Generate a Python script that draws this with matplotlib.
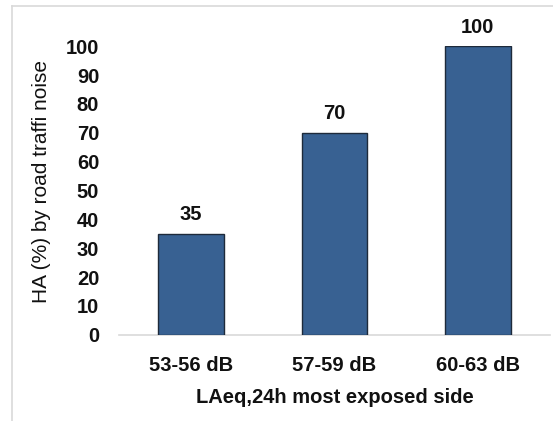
import matplotlib
matplotlib.use("Agg")
import matplotlib.pyplot as plt
from matplotlib.lines import Line2D

categories = ["53-56 dB", "57-59 dB", "60-63 dB"]
values = [35, 70, 100]
y_ticks = [0, 10, 20, 30, 40, 50, 60, 70, 80, 90, 100]

plt.rcParams["font.family"] = ["Liberation Sans", "DejaVu Sans"]

W, H = 553, 421
fig = plt.figure(figsize=(W / 100, H / 100), dpi=100)
ax = fig.add_axes([119.3 / W, 1 - 334.7 / H, (549.5 - 119.3) / W, (334.7 - 46.3) / H])

x = list(range(len(categories)))
ax.bar(x, values, width=0.458, color="#386192", edgecolor="#1e2a3a", linewidth=1.0, zorder=3)

for xi, v in zip(x, values):
    ax.annotate(str(v), (xi, v), xytext=(0, 7), textcoords="offset points",
                ha="center", va="bottom", fontsize=14.5, fontweight="bold",
                color="#111111", annotation_clip=False)

ax.set_xlim(-0.5, len(categories) - 0.5)
ax.set_ylim(0, 100)
ax.set_xticks(x)
ax.set_xticklabels(categories, fontsize=14.5, fontweight="bold", color="#111111")
ax.set_yticks(y_ticks)
ax.set_yticklabels([str(t) for t in y_ticks], fontsize=14.5, fontweight="bold", color="#111111")
ax.tick_params(axis="both", length=0)
ax.tick_params(axis="y", pad=14.5)
ax.tick_params(axis="x", pad=15)

for side in ("top", "right", "left"):
    ax.spines[side].set_visible(False)
ax.spines["bottom"].set_color("#d9d9d9")
ax.spines["bottom"].set_linewidth(1.2)

ax.set_ylabel("HA (%) by road traffi noise", fontsize=15, color="#111111")
ax.yaxis.set_label_coords(-0.159, 0.53)
ax.set_xlabel("LAeq,24h most exposed side", fontsize=14.5, fontweight="bold", color="#111111")
ax.xaxis.set_label_coords(0.5, -0.186)

# light outer frame of the chart area
fig.add_artist(Line2D([11.5 / W, 1], [1 - 6 / H, 1 - 6 / H], transform=fig.transFigure,
                      color="#d9d9d9", linewidth=1.2))
fig.add_artist(Line2D([11.5 / W, 11.5 / W], [0, 1 - 6 / H], transform=fig.transFigure,
                      color="#d9d9d9", linewidth=1.2))

fig.savefig("out.png", dpi=100)
